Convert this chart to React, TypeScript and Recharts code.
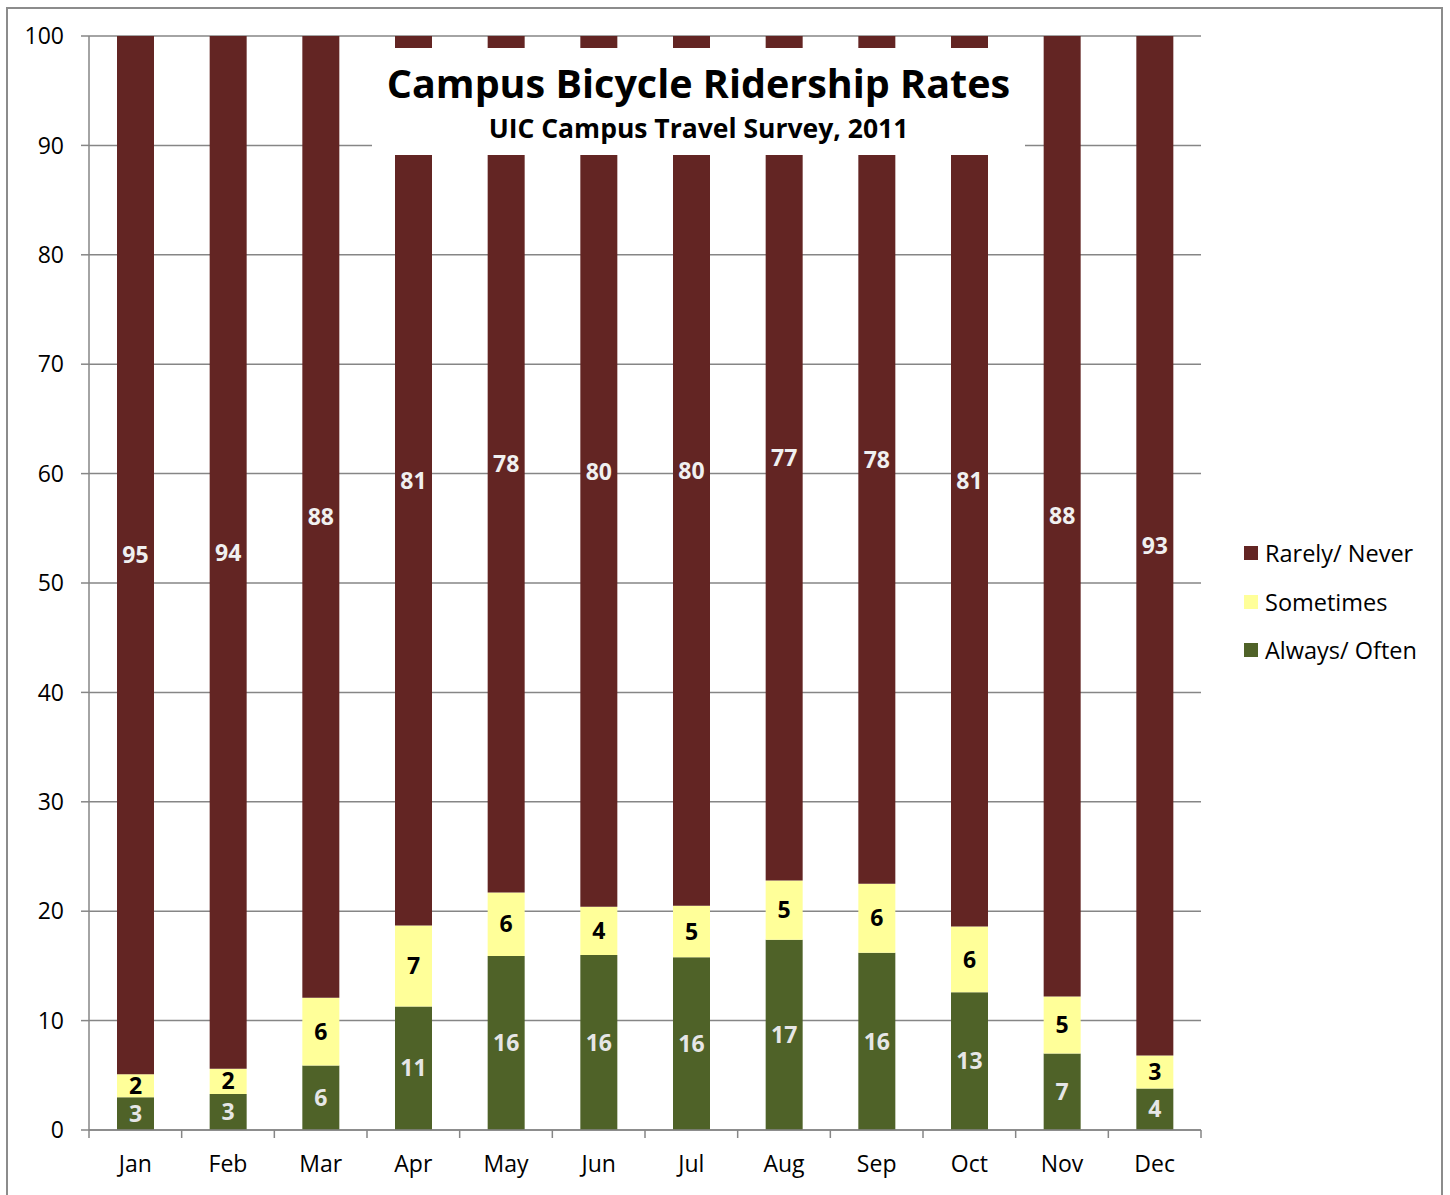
import React from 'react';
import { BarChart, Bar, XAxis, YAxis, CartesianGrid, Legend, LabelList } from 'recharts';

const months = ['Jan', 'Feb', 'Mar', 'Apr', 'May', 'Jun', 'Jul', 'Aug', 'Sep', 'Oct', 'Nov', 'Dec'];
const alwaysOften = [3.0, 3.3, 5.9, 11.3, 15.9, 16.0, 15.8, 17.4, 16.2, 12.6, 7.0, 3.8];
const sometimes = [2.1, 2.3, 6.2, 7.4, 5.8, 4.4, 4.7, 5.4, 6.3, 6.0, 5.2, 3.0];
const rarelyNever = [94.9, 94.4, 87.9, 81.3, 78.3, 79.6, 79.5, 77.2, 77.5, 81.4, 87.8, 93.2];
const yTicks = [0, 10, 20, 30, 40, 50, 60, 70, 80, 90, 100];

const data = months.map((m, i) => ({
  month: m,
  always: alwaysOften[i],
  sometimes: sometimes[i],
  rarely: rarelyNever[i],
}));

const FONT = '"Open Sans", Lato, sans-serif';
const GRID = '#868686';
const COLORS = { rarely: '#632523', sometimes: '#ffff99', always: '#4f6228' };

const round = (v: any) => Math.round(Number(v));

// month label plus the tick marks on the category boundaries (Excel style)
function MonthTick(props: any) {
  const { x, y, payload, index, visibleTicksCount } = props;
  const half = payload.offset ?? 1112 / 24;
  const last = index === visibleTicksCount - 1;
  return (
    <g>
      <line x1={x - half} x2={x - half} y1={y} y2={y + 8} stroke={GRID} strokeWidth={1.5} />
      {last && <line x1={x + half} x2={x + half} y1={y} y2={y + 8} stroke={GRID} strokeWidth={1.5} />}
      <text x={x} y={y} dy={42} textAnchor="middle" fontSize={23} fontFamily={FONT} fill="#000">
        {payload.value}
      </text>
    </g>
  );
}

function LegendBox() {
  const items = [
    { name: 'Rarely/ Never', color: COLORS.rarely },
    { name: 'Sometimes', color: COLORS.sometimes },
    { name: 'Always/ Often', color: COLORS.always },
  ];
  return (
    <div style={{ fontFamily: FONT, fontSize: 23.5, color: '#000' }}>
      {items.map((it) => (
        <div key={it.name} style={{ display: 'flex', alignItems: 'center', height: 48.5 }}>
          <span style={{ display: 'inline-block', width: 14, height: 14, background: it.color, marginRight: 7 }} />
          <span>{it.name}</span>
        </div>
      ))}
    </div>
  );
}

export default function App() {
  return (
    <div style={{ position: 'absolute', left: 0, top: 0, width: 1450, height: 1195, background: '#fff', overflow: 'hidden' }}>
      <div style={{ position: 'absolute', left: 6, top: 7, width: 1437, height: 1200, border: '2px solid #8c8c8c', boxSizing: 'border-box' }} />
      <BarChart
        width={1450}
        height={1195}
        data={data}
        margin={{ top: 36, right: 249, bottom: 10, left: 0 }}
        barSize={37}
        style={{ position: 'absolute', left: 0, top: 0 }}
      >
        <CartesianGrid vertical={false} stroke={GRID} strokeWidth={1.5} />
        <XAxis
          dataKey="month"
          height={55}
          stroke={GRID}
          strokeWidth={1.5}
          tickLine={false}
          tickSize={0}
          tickMargin={0}
          interval={0}
          tick={<MonthTick />}
        />
        <YAxis
          domain={[0, 100]}
          ticks={yTicks}
          interval={0}
          width={89}
          tickSize={8}
          tickMargin={17}
          stroke={GRID}
          strokeWidth={1.5}
          tick={{ fontSize: 23, fontFamily: FONT, fill: '#000' }}
        />
        <Legend
          layout="vertical"
          align="center"
          verticalAlign="middle"
          content={<LegendBox />}
          wrapperStyle={{ left: 1244, top: 529, width: 205 }}
        />
        <Bar dataKey="always" name="Always/ Often" stackId="s" fill={COLORS.always} isAnimationActive={false}>
          <LabelList dataKey="always" position="center" formatter={round} fill="#e6e6e6" fontSize={23} fontWeight="bold" fontFamily={FONT} />
        </Bar>
        <Bar dataKey="sometimes" name="Sometimes" stackId="s" fill={COLORS.sometimes} isAnimationActive={false}>
          <LabelList dataKey="sometimes" position="center" formatter={round} fill="#000" fontSize={23} fontWeight="bold" fontFamily={FONT} />
        </Bar>
        <Bar dataKey="rarely" name="Rarely/ Never" stackId="s" fill={COLORS.rarely} isAnimationActive={false}>
          <LabelList dataKey="rarely" position="center" formatter={round} fill="#f0f0f0" fontSize={23} fontWeight="bold" fontFamily={FONT} />
        </Bar>
      </BarChart>
      <div
        style={{
          position: 'absolute',
          left: 372,
          top: 48,
          width: 653,
          height: 107,
          background: '#fff',
          textAlign: 'center',
          fontFamily: FONT,
          fontWeight: 'bold',
          color: '#000',
        }}
      >
        <div style={{ fontSize: 39.5, lineHeight: '48px', marginTop: 11 }}>Campus Bicycle Ridership Rates</div>
        <div style={{ fontSize: 26.5, lineHeight: '34px', marginTop: 4 }}>UIC Campus Travel Survey, 2011</div>
      </div>
    </div>
  );
}
